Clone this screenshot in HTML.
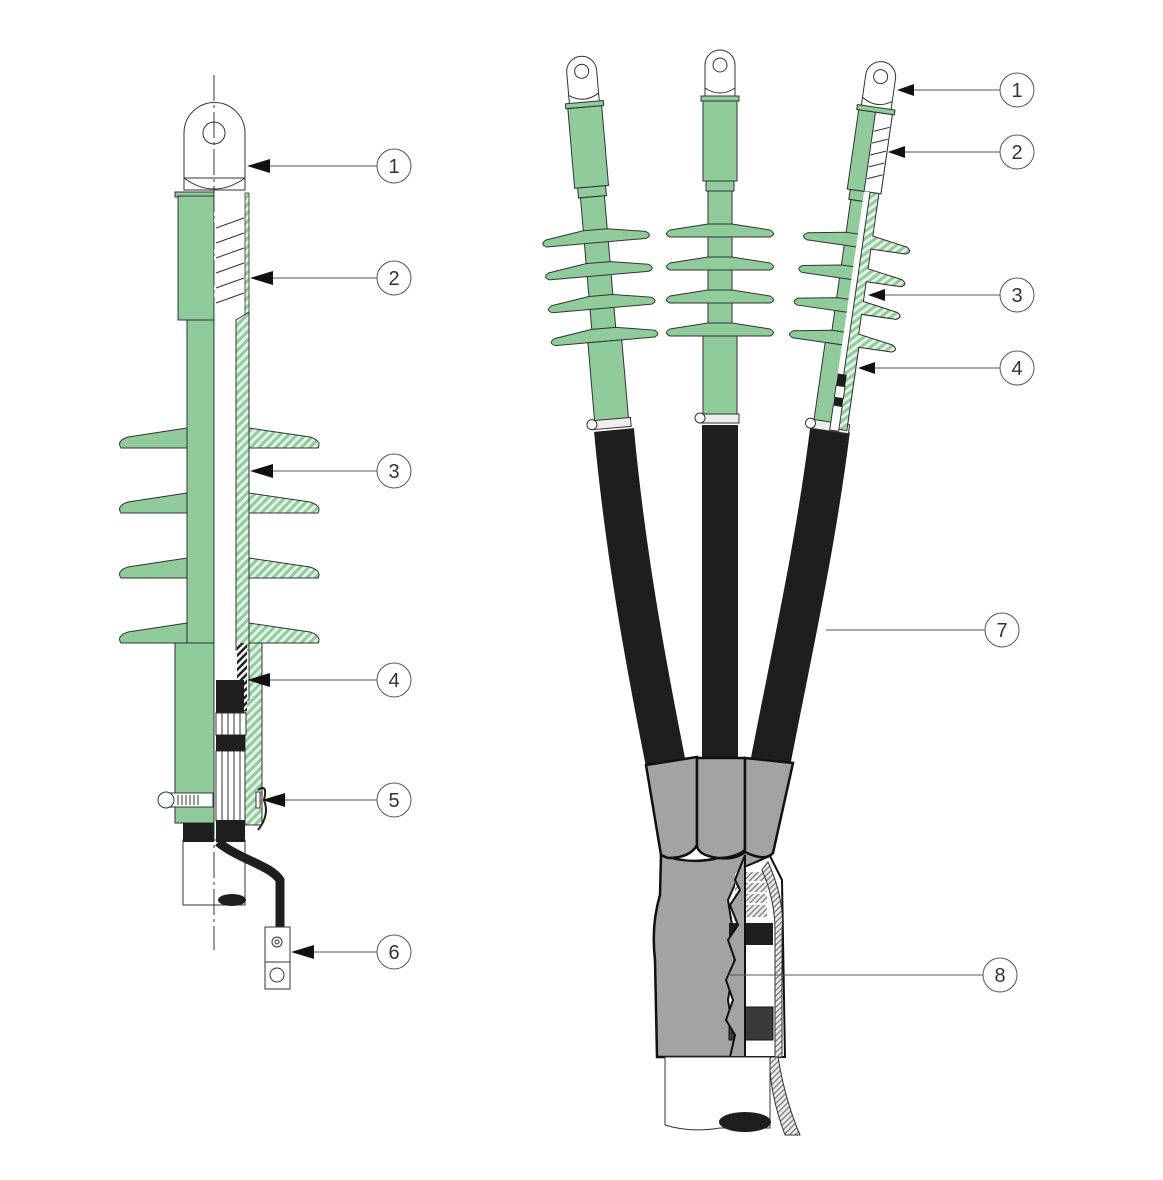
<!DOCTYPE html>
<html><head><meta charset="utf-8"><style>
html,body{margin:0;padding:0;background:#fff}
svg{display:block}
text{font-family:"Liberation Sans",sans-serif;font-size:20px;fill:#333}
</style></head><body>
<svg width="1163" height="1180" viewBox="0 0 1163 1180" xmlns="http://www.w3.org/2000/svg">
<defs>
<pattern id="h" width="6" height="6" patternUnits="userSpaceOnUse" patternTransform="rotate(45)">
<rect width="6" height="6" fill="#e4f3e7"/><rect width="3" height="6" fill="#8fcb9b"/>
</pattern>
<pattern id="hb" width="5" height="5" patternUnits="userSpaceOnUse" patternTransform="rotate(45)">
<rect width="5" height="5" fill="#fff"/><rect width="2.5" height="5" fill="#222"/>
</pattern>
<pattern id="hg" width="4" height="4" patternUnits="userSpaceOnUse" patternTransform="rotate(45)">
<rect width="4" height="4" fill="#eee"/><rect width="1.5" height="4" fill="#888"/>
</pattern>
<g id="term">
  <path d="M-15,-322 L-15,-355 A15,15 0 0 1 15,-355 L15,-322 Z" fill="#fff" stroke="#333" stroke-width="1"/>
  <circle cx="0" cy="-355" r="7" fill="none" stroke="#333" stroke-width="1"/>
  <path d="M-15,-332 Q0,-322 15,-332" fill="none" stroke="#333" stroke-width="1"/>
  <rect x="-19" y="-324" width="38" height="5" fill="#8fcb9b" stroke="#333" stroke-width="1"/>
  <rect x="-17" y="-319" width="34" height="80" fill="#8fcb9b" stroke="#333" stroke-width="1"/>
  <rect x="-14" y="-239" width="28" height="10" fill="#8fcb9b" stroke="#333" stroke-width="1"/>
  <rect x="-12" y="-229" width="24" height="142" fill="#8fcb9b" stroke="#333" stroke-width="1"/>
  <g fill="#8fcb9b" stroke="#333" stroke-width="1">
    <path d="M-12,-196 L-50,-190 Q-57,-186 -50,-183 L50,-183 Q57,-186 50,-190 L12,-196 Z"/>
    <path d="M-12,-163 L-50,-157 Q-57,-153 -50,-150 L50,-150 Q57,-153 50,-157 L12,-163 Z"/>
    <path d="M-12,-130 L-50,-124 Q-57,-120 -50,-117 L50,-117 Q57,-120 50,-124 L12,-130 Z"/>
    <path d="M-12,-97 L-50,-91 Q-57,-87 -50,-84 L50,-84 Q57,-87 50,-91 L12,-97 Z"/>
  </g>
  <rect x="-17" y="-84" width="34" height="84" fill="#8fcb9b" stroke="#333" stroke-width="1"/>
  <rect x="-19" y="-6" width="38" height="9" fill="#eee" stroke="#333" stroke-width="1"/>
  <circle cx="-20" cy="-2" r="5" fill="#fff" stroke="#333" stroke-width="1"/>
</g>
</defs>

<!-- ============ LEFT DRAWING ============ -->
<rect x="183" y="840" width="62" height="65" fill="#fff" stroke="#333" stroke-width="1"/>
<ellipse cx="232" cy="900" rx="14" ry="6" fill="#1e1e1e"/>
<path d="M218,842 C240,860 270,865 280,880 L280,928" fill="none" stroke="#1e1e1e" stroke-width="9"/>
<rect x="265" y="927" width="25" height="35" fill="#fff" stroke="#333" stroke-width="1"/>
<rect x="265" y="962" width="25" height="27" fill="#fff" stroke="#333" stroke-width="1"/>
<circle cx="277" cy="942" r="5" fill="none" stroke="#333"/><circle cx="277" cy="942" r="2" fill="none" stroke="#333"/>
<circle cx="277" cy="975" r="7" fill="none" stroke="#333"/>

<path d="M184,190 L184,133 A30,30 0 0 1 245,133 L245,190 Z" fill="#fff" stroke="#333" stroke-width="1"/>
<circle cx="214" cy="133" r="11" fill="none" stroke="#333"/>
<path d="M184,178 Q214,200 245,178" fill="none" stroke="#333"/>
<line x1="184" y1="178" x2="245" y2="178" stroke="#333"/>
<rect x="175" y="192" width="39" height="5" fill="#8fcb9b" stroke="#333"/>
<rect x="178" y="196" width="36" height="124" fill="#8fcb9b" stroke="#333"/>
<rect x="214" y="212" width="31" height="100" fill="#fff"/>
<g stroke="#333" stroke-width="1">
<line x1="216" y1="228" x2="244" y2="218"/><line x1="216" y1="243" x2="244" y2="233"/><line x1="216" y1="258" x2="244" y2="248"/><line x1="216" y1="273" x2="244" y2="263"/><line x1="216" y1="288" x2="244" y2="278"/><line x1="216" y1="303" x2="244" y2="293"/>
</g>
<rect x="245" y="193" width="4" height="130" fill="url(#h)" stroke="#333" stroke-width="0.8"/>
<rect x="187" y="320" width="27" height="325" fill="#8fcb9b" stroke="#333"/>
<path d="M236,320 L249,312 L249,650 L236,650 Z" fill="url(#h)" stroke="#333"/>
<g fill="#8fcb9b" stroke="#333" stroke-width="1">
<path d="M187,428 L128,437 Q116,441 121,448 L187,448 Z"/>
<path d="M187,493 L128,502 Q116,506 121,513 L187,513 Z"/>
<path d="M187,558 L128,567 Q116,571 121,578 L187,578 Z"/>
<path d="M187,623 L128,632 Q116,636 121,643 L187,643 Z"/>
</g>
<g fill="url(#h)" stroke="#333" stroke-width="1">
<path d="M249,428 L310,437 Q322,441 318,448 L249,448 Z"/>
<path d="M249,493 L310,502 Q322,506 318,513 L249,513 Z"/>
<path d="M249,558 L310,567 Q322,571 318,578 L249,578 Z"/>
<path d="M249,623 L310,632 Q322,636 318,643 L249,643 Z"/>
</g>
<rect x="175" y="643" width="39" height="180" fill="#8fcb9b" stroke="#333"/>
<path d="M249,643 L262,643 L262,825 L245,825 L245,700 L249,700 Z" fill="url(#h)" stroke="#333"/>
<rect x="237" y="643" width="10" height="68" fill="url(#hb)"/>
<rect x="216" y="680" width="28" height="33" fill="#1e1e1e"/>
<rect x="216" y="713" width="30" height="22" fill="#fff" stroke="#333"/>
<g stroke="#333"><line x1="222" y1="713" x2="222" y2="735"/><line x1="228" y1="713" x2="228" y2="735"/><line x1="234" y1="713" x2="234" y2="735"/><line x1="240" y1="713" x2="240" y2="735"/></g>
<rect x="216" y="735" width="29" height="16" fill="#1e1e1e"/>
<rect x="216" y="751" width="29" height="70" fill="#fff" stroke="#333"/>
<g stroke="#333"><line x1="222" y1="751" x2="222" y2="821"/><line x1="228" y1="751" x2="228" y2="821"/><line x1="234" y1="751" x2="234" y2="821"/><line x1="240" y1="751" x2="240" y2="821"/></g>
<rect x="216" y="820" width="29" height="22" fill="#1e1e1e"/>
<rect x="183" y="823" width="31" height="19" fill="#1e1e1e"/>
<rect x="168" y="793" width="45" height="14" fill="#fff" stroke="#333"/>
<g stroke="#333"><line x1="178" y1="795" x2="178" y2="805"/><line x1="182" y1="795" x2="182" y2="805"/><line x1="186" y1="795" x2="186" y2="805"/><line x1="190" y1="795" x2="190" y2="805"/><line x1="194" y1="795" x2="194" y2="805"/><line x1="198" y1="795" x2="198" y2="805"/></g>
<circle cx="166" cy="800" r="8" fill="#fff" stroke="#333"/>
<path d="M258,790 Q268,783 264,800 Q270,815 258,830" fill="none" stroke="#1e1e1e" stroke-width="2"/>
<rect x="256" y="792" width="4" height="16" fill="#fff" stroke="#333"/>
<line x1="214" y1="75" x2="214" y2="950" stroke="#333" stroke-width="1" stroke-dasharray="26,4,3,4"/>

<g stroke="#555" stroke-width="1" fill="#fff">
<circle cx="394" cy="166" r="17"/><circle cx="394" cy="278" r="17"/><circle cx="394" cy="471" r="17"/><circle cx="394" cy="680" r="17"/><circle cx="394" cy="800" r="17"/><circle cx="394" cy="952" r="17"/>
<line x1="267" y1="166" x2="377" y2="166"/><line x1="270" y1="278" x2="377" y2="278"/><line x1="270" y1="471" x2="377" y2="471"/><line x1="267" y1="680" x2="377" y2="680"/><line x1="278" y1="800" x2="377" y2="800"/><line x1="310" y1="952" x2="377" y2="952"/>
</g>
<g fill="#111">
<path d="M247,166 L270,159 L270,173 Z"/><path d="M250,278 L273,271 L273,285 Z"/><path d="M250,471 L273,464 L273,478 Z"/><path d="M247,680 L270,673 L270,687 Z"/><path d="M262,800 L285,793 L285,807 Z"/><path d="M291,952 L314,945 L314,959 Z"/>
</g>
<g text-anchor="middle"><text x="394" y="173">1</text><text x="394" y="285">2</text><text x="394" y="478">3</text><text x="394" y="687">4</text><text x="394" y="807">5</text><text x="394" y="959">6</text></g>

<!-- ============ RIGHT DRAWING ============ -->
<g fill="none" stroke="#1e1e1e" stroke-linecap="butt">
<path d="M614,430 C625,550 645,660 668,775" stroke-width="40"/>
<path d="M720,425 C720,550 720,660 720,775" stroke-width="36"/>
<path d="M830,430 C815,550 790,660 768,775" stroke-width="40"/>
</g>
<use href="#term" transform="translate(612,425) rotate(-4.9)"/>
<use href="#term" transform="translate(720,420)"/>
<use href="#term" transform="translate(830,428) rotate(8.2)"/>
<g transform="translate(830,428) rotate(8.2)">
<rect x="0" y="-319" width="17" height="80" fill="#fff" stroke="#333"/>
<g stroke="#333"><line x1="1" y1="-300" x2="16" y2="-306"/><line x1="1" y1="-288" x2="16" y2="-294"/><line x1="1" y1="-276" x2="16" y2="-282"/><line x1="1" y1="-264" x2="16" y2="-270"/><line x1="1" y1="-252" x2="16" y2="-258"/></g>
<rect x="0" y="-239" width="6" height="239" fill="#fff"/>
<path d="M6,-239 L15,-239 L15,-196 L50,-190 Q57,-186 50,-183 L15,-183 L15,-163 L50,-157 Q57,-153 50,-150 L15,-150 L15,-130 L50,-124 Q57,-120 50,-117 L15,-117 L15,-97 L50,-91 Q57,-87 50,-84 L17,-84 L17,0 L6,0 Z" fill="url(#h)" stroke="#333"/>
<rect x="0" y="-55" width="9" height="12" fill="#1e1e1e"/>
<rect x="0" y="-43" width="9" height="12" fill="#fff" stroke="#333"/>
<rect x="0" y="-31" width="9" height="8" fill="#1e1e1e"/>
<rect x="0" y="-23" width="9" height="25" fill="#fff" stroke="#333"/>
</g>
<!-- boots -->
<g fill="#a3a3a3" stroke="#111" stroke-width="2.5">
<path d="M661,855 Q690,865 718,858 Q735,860 745,852 L770,855 L745,1057 L657,1057 L655,960 Q651,925 660,895 Z"/>
<path d="M646,765 L697,757 L697,845 Q690,858 668,858 L661,855 Z"/>
<path d="M697,758 L745,758 L745,850 Q735,858 718,858 Q697,855 697,845 Z"/>
<path d="M745,758 L793,763 L773,853 Q765,862 745,852 Z"/>
</g>
<!-- cut-away internals -->
<path d="M742,868 L770,856 L782,880 L785,1057 L737,1057 L728,1000 L736,950 L728,900 Z" fill="#fff" stroke="#111" stroke-width="2"/>
<rect x="735" y="872" width="32" height="45" fill="url(#hg)"/>
<g stroke="#fff" stroke-width="2"><line x1="735" y1="882" x2="767" y2="882"/><line x1="735" y1="893" x2="767" y2="893"/><line x1="735" y1="904" x2="767" y2="904"/></g>
<path d="M768,862 Q785,900 782,930 L782,1057 L775,1057 L775,930 Q775,900 762,870 Z" fill="url(#hg)" stroke="#333"/>
<rect x="729" y="923" width="44" height="22" fill="#1e1e1e"/>
<rect x="729" y="1007" width="44" height="33" fill="#3a3a3a" stroke="#111"/>
<path d="M745,855 L735,880 L740,890 L730,905 L738,925 L728,940 L735,960 L726,980 L733,1000 L726,1020 L735,1035 L730,1057 L745,1057 Z" fill="#a3a3a3" stroke="#111" stroke-width="2"/>
<!-- cable below -->
<path d="M665,1057 L665,1125 Q690,1133 720,1128 L770,1128 L770,1057 Z" fill="#fff" stroke="#333"/>
<ellipse cx="745" cy="1122" rx="26" ry="10" fill="#1e1e1e"/>
<path d="M770,1057 L778,1057 Q785,1100 800,1135 L785,1135 Q772,1100 770,1070 Z" fill="url(#hg)" stroke="#333"/>

<g stroke="#555" stroke-width="1" fill="#fff">
<circle cx="1017" cy="90" r="17"/><circle cx="1017" cy="152" r="17"/><circle cx="1017" cy="295" r="17"/><circle cx="1017" cy="368" r="17"/><circle cx="1002" cy="630" r="17"/><circle cx="1000" cy="975" r="17"/>
<line x1="912" y1="90" x2="1000" y2="90"/><line x1="905" y1="152" x2="1000" y2="152"/><line x1="885" y1="295" x2="1000" y2="295"/><line x1="875" y1="368" x2="1000" y2="368"/><line x1="826" y1="630" x2="985" y2="630"/><line x1="727" y1="975" x2="983" y2="975"/>
</g>
<g fill="#111">
<path d="M897,90 L914,84 L914,96 Z"/><path d="M888,152 L905,146 L905,158 Z"/><path d="M868,295 L885,289 L885,301 Z"/><path d="M858,368 L875,362 L875,374 Z"/>
</g>
<g text-anchor="middle"><text x="1017" y="97">1</text><text x="1017" y="159">2</text><text x="1017" y="302">3</text><text x="1017" y="375">4</text><text x="1002" y="637">7</text><text x="1000" y="982">8</text></g>
</svg>
</body></html>
